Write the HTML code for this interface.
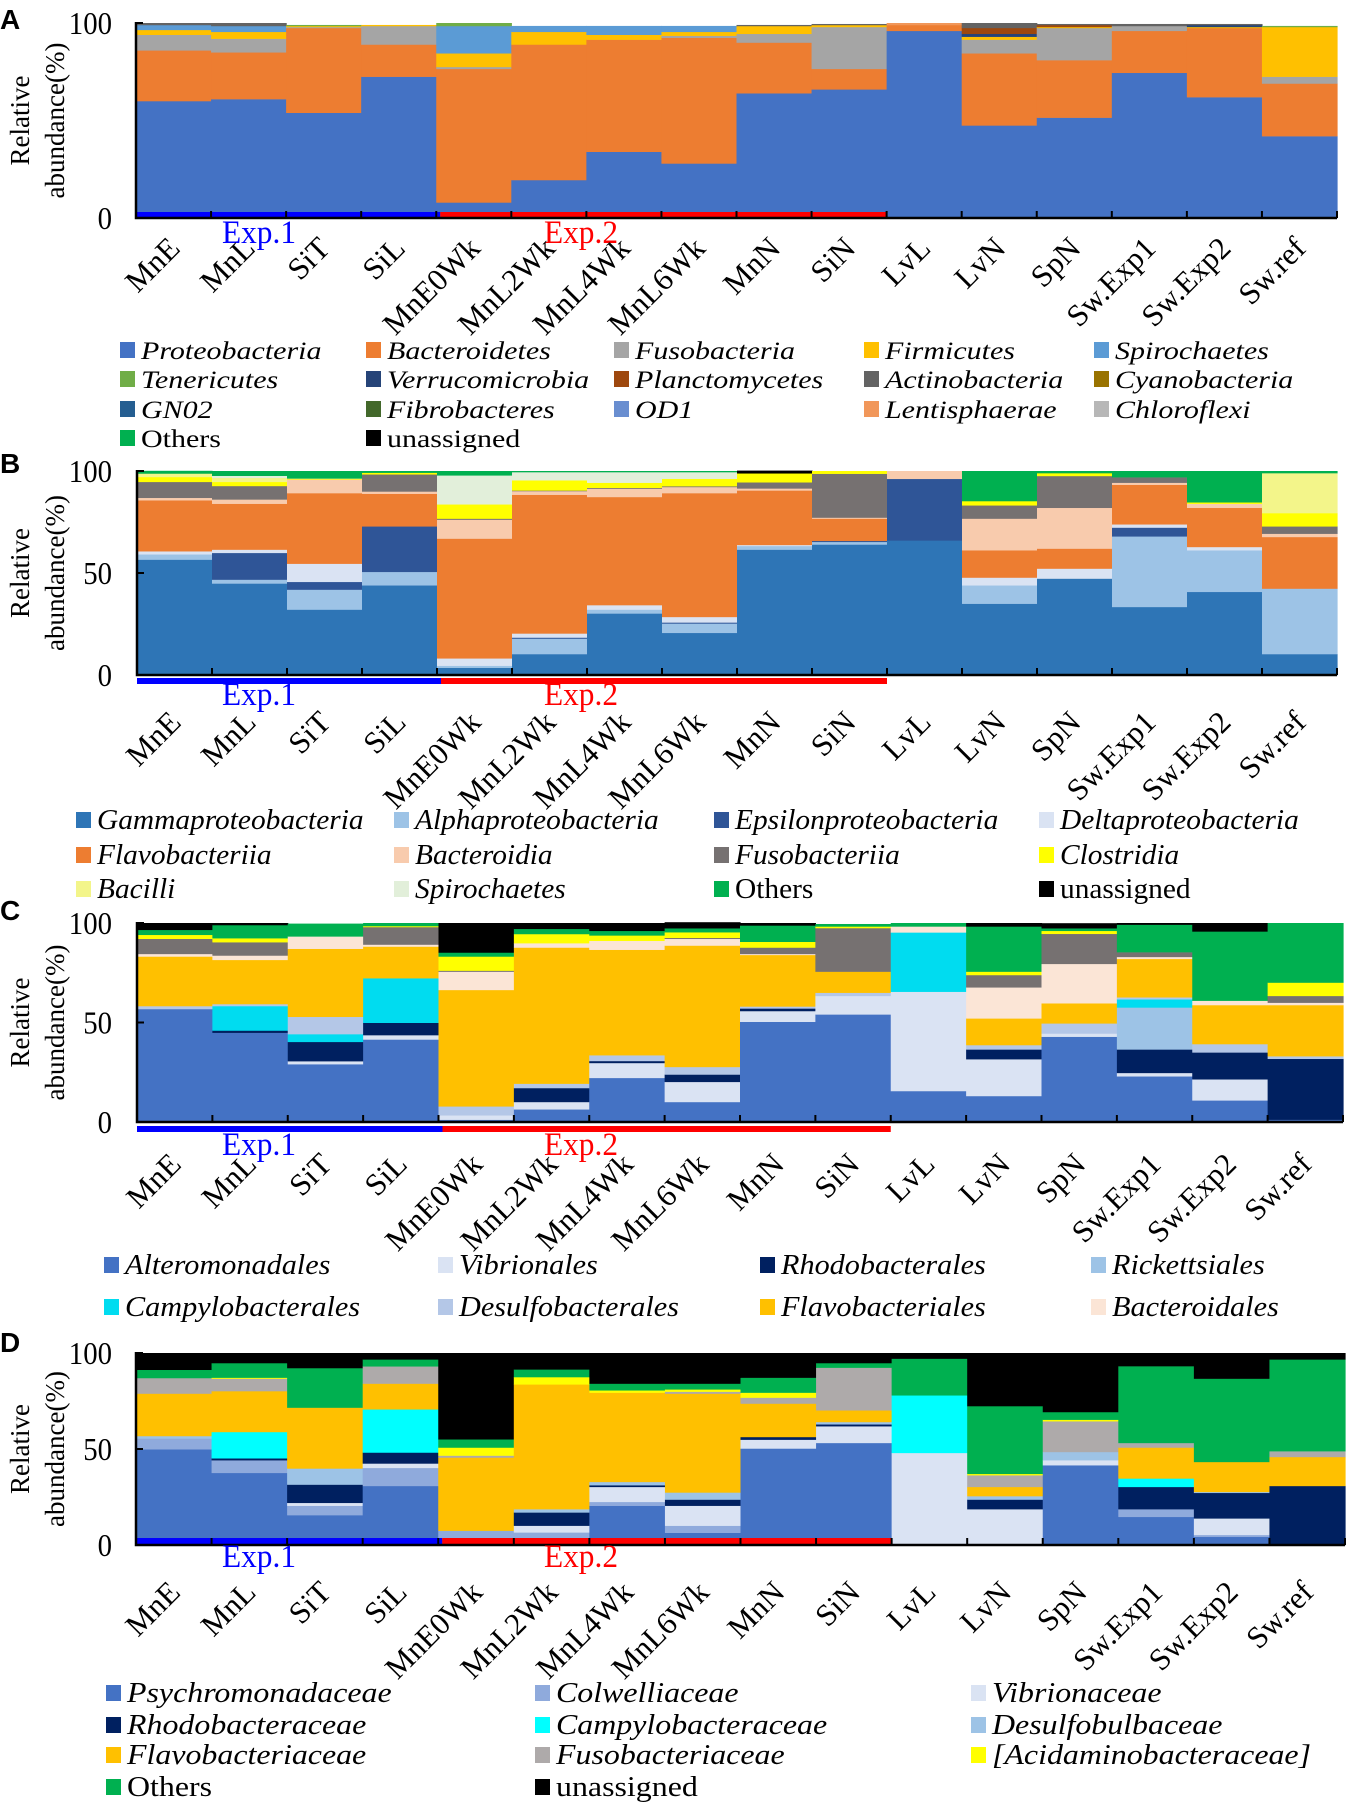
<!DOCTYPE html>
<html><head><meta charset="utf-8"><style>
html,body{margin:0;padding:0;background:#fff;}
svg{display:block;}
text{font-family:"Liberation Serif","Times New Roman",serif;}
</style></head>
<body>
<svg id="fig" xmlns="http://www.w3.org/2000/svg" width="1347" height="1807" viewBox="0 0 1347 1807"></svg>
<script>
const categories = ["MnE","MnL","SiT","SiL","MnE0Wk","MnL2Wk","MnL4Wk","MnL6Wk","MnN","SiN","LvL","LvN","SpN","Sw.Exp1","Sw.Exp2","Sw.ref"];
const yTicksA = [0,100];
const yTicksBCD = [0,50,100];

// Panel A (phylum)
const A_proteo = [60,61,54,72.5,8,19.5,34,28,64,66,96,47.5,51.5,74.5,62,42];
const A_bacter = [26,24,43.5,16.5,68.5,69.5,57.5,64.5,26,10.5,3,37,29.5,21.5,35.5,27];
const A_fuso = [8,7,0.5,9.5,1,0,0,1,4.5,21.5,0,7,16.5,2.5,0,3.5];
const A_firm = [2.5,3.5,0.5,0.5,7,6.5,2.5,2,4,1,0,1.5,0.5,0,0.5,25.5];
const A_spiro = [2.5,3,0,0,14,3,4.5,3,0,0,0,0,0,0,0,0];
const A_teneric = [0,0,0.5,0,1.5,0,0,0,0,0,0,0,0,0,0,0.5];
const A_verruco = [0,0,0,0,0,0,0,0,0,0,0,1.5,0,0,1,0];
const A_plancto = [0,0,0,0,0,0,0,0,0,0,0,3,1,0,0,0];
const A_actino = [1,1.5,0,0,0,0,0,0,0.5,0.5,0,2.5,0.5,1,0.5,0];
const A_cyano = [0,0,0,0,0,0,0,0,0,0,0,0,0,0,0,0];
const A_gn02 = [0,0,0,0,0,0,0,0,0,0,0,0,0,0,0,0];
const A_fibro = [0,0,0,0,0,0,0,0,0,0,0,0,0,0,0,0];
const A_od1 = [0,0,0,0,0,0,0,0,0,0,0,0,0,0,0,0];
const A_lenti = [0,0,0,0,0,0,0,0,0,0,1,0,0,0,0,0];
const A_chloro = [0,0,0,0,0,0,0,0,0,0,0,0,0,0,0,0];
const A_others = [0,0,0,0,0,0,0,0,0,0,0,0,0,0,0,0];
const A_unass = [0,0,0,0,0,0,0,0,0,0,0,0,0,0,0,0];

// Panel B (class)
const B_gamma = [56.6,44.9,32.1,44,3.6,10.3,30.2,20.7,61.5,64,66,35,47.3,33.4,40.8,10.3];
const B_alpha = [2.6,1.9,9.8,6.6,1,7.6,1.9,4.6,1.8,1.3,0,9,0,34.6,20.4,32.1];
const B_epsilon = [0,13.1,3.8,22.3,0,0.5,0,0.5,0,0.5,30.2,0,0,4.3,0,0];
const B_delta = [1.5,1.6,8.9,0,3.6,2,2.2,2.7,0.5,0,0,3.8,4.9,1.6,1.6,0];
const B_flavo = [25,22.5,34.6,16,58.7,68,53,60.7,26.7,10.9,0,13.4,9.8,19.4,19.2,25.3];
const B_bacteroidia = [1.2,2.1,6.7,1.1,9.3,1.8,4.1,3,1,0.5,3.8,15.5,20,1,2,1.6];
const B_fuso = [7.8,6.6,0,8.4,0.5,0.3,0.4,0.4,3,21.5,0,6.5,15.6,2.7,0,3.6];
const B_clost = [2.4,2,0.3,0.8,7,5,2.5,3.6,4.4,1.3,0,2.1,1.4,0,0.7,6.5];
const B_bacilli = [1.7,2,0.2,0,0,0,0,0,0,0,0,0,0,0,0,19.6];
const B_spiro = [0,1,0,0,14.2,4,5.2,3.3,0,0,0,0,0,0,0,0];
const B_others = [1.3,2.3,3.6,0.8,2.1,0.5,0.5,0.5,0,0,0,14.7,1,3,15.3,1];
const B_unass = [0,0,0,0,0,0,0,0,1.3,0,0,0,0,0,0,0];

// Panel C (order)
const C_altero = [56.8,44.9,29.1,41.5,1.2,6.4,22.2,10.1,50.4,54.1,15.6,13.1,42.9,23,10.9,1.2];
const C_vibrio = [0,0,1.5,2.2,2.2,3.7,7.5,10.1,5.4,9.3,49.9,18.5,1.6,1.7,10.6,0];
const C_rhodo = [0,1.1,9.7,6.2,0,7,1,3.7,1.3,0,0,4.9,0,11.8,13.5,30.6];
const C_rickett = [0,0,0,0,0,0,0,0,0,0,0,0,0,21.1,0,0];
const C_campylo = [0,12.3,3.9,22.4,0,0,0,0,0,0,29.8,0,0,4.1,0,0];
const C_desulfo = [1.5,1,8.7,0,4.5,2.2,2.9,3.8,1,1.6,0,2.2,5.1,1,4.2,1.3];
const C_flavo = [24.9,22.2,34.2,15.9,58.5,68.4,53,61,25.9,10.6,0,13.4,10.1,19.3,19.6,25.7];
const C_bacteroidales = [1.3,2.2,6.2,1,9.2,2.2,4.5,3.4,0.5,0,3,15.6,19.8,1,2.2,1.2];
const C_fuso = [7.6,6.7,0,8.8,0.5,0,0,0.5,3.2,21.9,0,6.2,15.1,2.4,0,3.4];
const C_clost = [2,2,0,0.5,7.1,4.6,2.7,2.8,2.9,0.8,0,1.7,1.5,0,0,6.7];
const C_others = [2.5,6.6,6.4,1.5,2,2.6,2.3,2,8.2,1.2,1.7,22.7,1.3,13.8,34.8,29.9];
const C_unass = [3.4,1,0,0,14.8,2.9,3.9,3,1.2,0,0,1.7,2.5,0.8,4.2,0];

// Panel D (family)
const D_psychro = [49.9,37.6,15.6,30.8,3,3.5,20.5,6.4,50.3,53.2,0,0,41.6,14.7,4.3,0];
const D_colw = [5.6,6.6,4.9,9.4,4.5,3.1,2,3.7,0,0,0,0,0,4,1,0];
const D_vibrio = [0,0,1.5,2.3,0,3.5,7.8,10.4,4.6,8.7,48,18.7,2.6,0,8.6,0];
const D_rhodo = [0,1,9.5,5.7,0,6.9,0.9,3.2,1.4,1,0,5,0,11.6,13.3,30.8];
const D_campylo = [0,13.7,0,22.5,0,0,0,0,0,0,30,0,0,4.4,0,0];
const D_desulfo = [1.3,0,8.4,0,0,1.7,1.7,3.7,0,1.2,0,1.8,4.3,0,0.5,0];
const D_flavo = [22.1,21.3,31.7,13.4,38.1,65,46.5,51.5,17.4,6.1,0,4.8,0,16.1,15.6,15.1];
const D_fuso = [8.1,6.5,0,9,1,0,0,1,3.1,22.2,0,6.1,16,2.4,0,3];
const D_acid = [0,0.5,0,0,4.2,3.8,1.2,1.2,2.6,0,0,0.7,0.8,0,0,0];
const D_others = [4.3,7.6,20.6,3.6,4.3,4,3.5,3,7.8,2.4,19.1,35.3,4,40,43.4,47.8];
const D_unass = [8.7,5.2,7.8,3.3,44.9,8.5,15.9,15.9,12.8,5.2,2.9,27.6,30.7,6.8,13.3,3.3];

const NS = "http://www.w3.org/2000/svg";
const svg = document.getElementById('fig');
function mk(parent, tag, attrs, txt){
  const e = document.createElementNS(NS, tag);
  for (const k in attrs) e.setAttribute(k, attrs[k]);
  if (txt !== undefined) e.textContent = txt;
  parent.appendChild(e);
  return e;
}

const panels = [
  {id:'a', letter:'A', letterY:29, left:136, right:1337, top:23, bottom:218, ticks:yTicksA,
   expY:212, expBarOver:true, expTextY:243, labOff:32,
   series:[["Proteobacteria","#4472c4",A_proteo,1],["Bacteroidetes","#ed7d31",A_bacter,1],["Fusobacteria","#a5a5a5",A_fuso,1],["Firmicutes","#ffc000",A_firm,1],["Spirochaetes","#5b9bd5",A_spiro,1],
     ["Tenericutes","#70ad47",A_teneric,1],["Verrucomicrobia","#264478",A_verruco,1],["Planctomycetes","#9e480e",A_plancto,1],["Actinobacteria","#636363",A_actino,1],["Cyanobacteria","#997300",A_cyano,1],
     ["GN02","#255e91",A_gn02,1],["Fibrobacteres","#43682b",A_fibro,1],["OD1","#698ed0",A_od1,1],["Lentisphaerae","#f1975a",A_lenti,1],["Chloroflexi","#b7b7b7",A_chloro,1],
     ["Others","#00b050",A_others,0],["unassigned","#000000",A_unass,0]],
   legCols:[120,366,614,864,1094], legRows:[350,379,409,438], legNCol:5, legFont:25, legScale:1.2},
  {id:'b', letter:'B', letterY:473, left:137, right:1337, top:471, bottom:675, ticks:yTicksBCD,
   expY:678, expBarOver:false, expTextY:705, labOff:49,
   series:[["Gammaproteobacteria","#2e75b6",B_gamma,1],["Alphaproteobacteria","#9dc3e6",B_alpha,1],["Epsilonproteobacteria","#2f5597",B_epsilon,1],["Deltaproteobacteria","#dae3f3",B_delta,1],
     ["Flavobacteriia","#ed7d31",B_flavo,1],["Bacteroidia","#f8cbad",B_bacteroidia,1],["Fusobacteriia","#767171",B_fuso,1],["Clostridia","#ffff00",B_clost,1],
     ["Bacilli","#f3f58a",B_bacilli,1],["Spirochaetes","#e2efda",B_spiro,1],["Others","#00b050",B_others,0],["unassigned","#000000",B_unass,0]],
   legCols:[76,394,714,1039], legRows:[820,855,889], legNCol:4, legFont:28, legScale:1.05},
  {id:'c', letter:'C', letterY:920, left:137, right:1343, top:923, bottom:1122, ticks:yTicksBCD,
   expY:1126, expBarOver:false, expTextY:1155, labOff:44,
   series:[["Alteromonadales","#4472c4",C_altero,1],["Vibrionales","#dae3f3",C_vibrio,1],["Rhodobacterales","#002060",C_rhodo,1],["Rickettsiales","#9dc3e6",C_rickett,1],
     ["Campylobacterales","#00dcf0",C_campylo,1],["Desulfobacterales","#b4c7e7",C_desulfo,1],["Flavobacteriales","#ffc000",C_flavo,1],["Bacteroidales","#fbe5d6",C_bacteroidales,1],
     ["Fusobacteriales","#767171",C_fuso,-1],["Clostridiales","#ffff00",C_clost,-1],["Others","#00b050",C_others,-1],["unassigned","#000000",C_unass,-1]],
   legCols:[104,438,760,1091], legRows:[1265,1307], legNCol:4, legFont:28, legScale:1.08},
  {id:'d', letter:'D', letterY:1352, left:136, right:1345, top:1353, bottom:1545, ticks:yTicksBCD,
   expY:1538, expBarOver:true, expTextY:1567, labOff:49,
   series:[["Psychromonadaceae","#4472c4",D_psychro,1],["Colwelliaceae","#8faadc",D_colw,1],["Vibrionaceae","#dae3f3",D_vibrio,1],["Rhodobacteraceae","#002060",D_rhodo,1],
     ["Campylobacteraceae","#00ffff",D_campylo,1],["Desulfobulbaceae","#9dc3e6",D_desulfo,1],["Flavobacteriaceae","#ffc000",D_flavo,1],["Fusobacteriaceae","#aeaaaa",D_fuso,1],
     ["[Acidaminobacteraceae]","#ffff00",D_acid,1],["Others","#00b050",D_others,0],["unassigned","#000000",D_unass,0]],
   legCols:[106,535,971], legRows:[1693,1725,1755,1787], legNCol:3, legFont:28, legScale:1.14}
];

panels.forEach(p => {
  const g = mk(svg,'g',{});
  
  
  const n = categories.length;
  const bw = (p.right - p.left) / n;
  const yS = v => p.bottom - (v/100) * (p.bottom - p.top);
  const xS = i => p.left + i * bw;

  const lt = mk(g,'text',{x:0,y:p.letterY,'font-size':28,'font-weight':'bold',style:'font-family:"Liberation Sans",sans-serif'}, p.letter);
  
  

  for (let i=0;i<n;i++){
    let acc = 0;
    p.series.forEach((s, si) => {
      const v = s[2][i];
      if (v > 0){
        const r = mk(g,'rect',{x:xS(i), y:yS(acc+v), width:bw+0.6, height:yS(acc)-yS(acc+v)+0.3, fill:s[1]});
        
        
      }
      acc += v;
    });
  }
  const eh = p.expBarOver ? (p.bottom - p.expY) : 6;
  const b1 = mk(g,'rect',{x:xS(0), y:p.expY, width:xS(4)-xS(0)+4, height:eh, fill:'#0000ff'});
  
  
  const b2 = mk(g,'rect',{x:xS(4)+4, y:p.expY, width:xS(10)-xS(4)-4, height:eh, fill:'#ff0000'});
  
  
  const ax = mk(g,'path',{d:`M${p.left} ${p.top-1} V${p.bottom} H${p.right}`, stroke:'#000', 'stroke-width':2.5, fill:'none'});
  
  
  for (let i=0;i<=n;i++){
    const t = mk(g,'line',{x1:xS(i), x2:xS(i), y1:p.bottom, y2:p.bottom-7, stroke:'#000','stroke-width':2});
    
    
  }
  p.ticks.forEach(tv => {
    const tl = mk(g,'line',{x1:p.left, x2:p.left+7, y1:yS(tv), y2:yS(tv), stroke:'#000','stroke-width':2});
    
    
    const tt = mk(g,'text',{transform:`translate(112 ${yS(tv)+11}) scale(0.9 1)`, 'font-size':32, 'text-anchor':'end'}, String(tv));
    
    
  });
  const cy = (p.top + p.bottom)/2;
  const y1 = mk(g,'text',{transform:`translate(29 ${cy}) rotate(-90)`, 'font-size':27, 'text-anchor':'middle'}, 'Relative');
  
  
  const y2 = mk(g,'text',{transform:`translate(64 ${cy}) rotate(-90)`, 'font-size':27, 'text-anchor':'middle'}, 'abundance(%)');
  
  
  const e1 = mk(g,'text',{transform:`translate(222 ${p.expTextY}) scale(0.95 1)`, 'font-size':33, fill:'#0000ff'}, 'Exp.1');
  
  
  const e2 = mk(g,'text',{transform:`translate(544 ${p.expTextY}) scale(0.95 1)`, 'font-size':33, fill:'#ff0000'}, 'Exp.2');
  
  
  categories.forEach((c,i) => {
    const cx = xS(i) + bw/2 + 8;
    const tx = mk(g,'text',{transform:`translate(${cx} ${p.bottom + p.labOff}) rotate(-45)`, 'font-size':31, 'text-anchor':'end'}, c);
    
    
  });
  let k = 0;
  p.series.forEach(s => {
    if (s[3] < 0) return;
    const col = k % p.legNCol, row = Math.floor(k / p.legNCol);
    k++;
    const lx = p.legCols[col], ly = p.legRows[row];
    const sw = mk(g,'rect',{x:lx, y:ly-8, width:15, height:16, fill:s[1]});
    
    
    const lt2 = mk(g,'text',{transform:`translate(${lx+21} ${ly+9}) scale(${p.legScale} 1)`, 'font-size':p.legFont, 'font-style': s[3]===1 ? 'italic':'normal'}, s[0]);
    
    
  });
});
</script>
</body></html>
